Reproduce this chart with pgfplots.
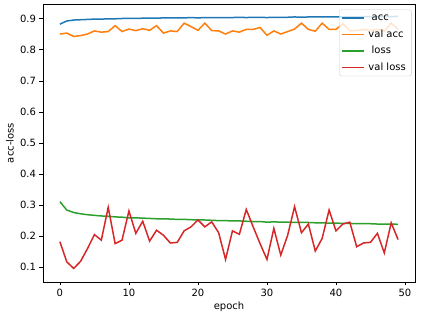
\documentclass[border=0pt]{standalone}
\usepackage{fontspec}
\setmainfont{DejaVu Sans}
\usepackage{pgfplots}
\pgfplotsset{compat=1.18}
\definecolor{c0}{HTML}{1F77B4}
\definecolor{c1}{HTML}{FF7F0E}
\definecolor{c2}{HTML}{2CA02C}
\definecolor{c3}{HTML}{D62728}
\begin{document}
\begin{tikzpicture}
\useasboundingbox (-43pt,-39pt) rectangle (380pt,282pt);
\begin{axis}[
  at={(0,0)}, anchor=south west,
  width=372pt, height=278pt, scale only axis,
  xmin=-2.45, xmax=51.45, ymin=0.0523, ymax=0.9477,
  xtick={0,10,20,30,40,50},
  ytick={0.1,0.2,0.3,0.4,0.5,0.6,0.7,0.8,0.9},
  yticklabels={0.1,0.2,0.3,0.4,0.5,0.6,0.7,0.8,0.9},
  tick align=outside, major tick length=3.5pt,
  tick style={line width=0.8pt, black},
  axis line style={line width=0.8pt},
  tick pos=left,
  font=\fontsize{10}{12}\selectfont,
  /pgf/number format/assume math mode=true,
  ticklabel style={font=\fontsize{10}{12}\selectfont},
  xlabel={epoch}, ylabel={acc-loss},
  every axis x label/.style={at={(axis description cs:0.5,0)}, anchor=center, yshift=-25pt},
  every axis y label/.style={at={(axis description cs:0,0.5)}, xshift=-33pt, anchor=center, rotate=90},
  legend style={at={(axis description cs:1,1)}, anchor=north east, xshift=-3.5pt, yshift=-5.5pt,
    draw=black!20, rounded corners=2pt, fill=white, fill opacity=0.8, text opacity=1, draw opacity=1,
    font=\fontsize{10}{12}\selectfont, inner xsep=2pt, inner ysep=1.5pt, row sep=2.7pt,
    nodes={inner ysep=2pt, inner xsep=3.5pt, text height=7.6pt, text depth=2.2pt},
    cells={anchor=west}},
  legend image code/.code={\draw[#1, line width=1.5pt] (0pt,0pt) -- (22pt,0pt);},
  every axis plot/.append style={line width=1.5pt, mark=none},
]
\addplot[c0] coordinates {(0,0.883)(1,0.893)(2,0.896)(3,0.897)(4,0.898)(5,0.899)(6,0.899)(7,0.900)(8,0.900)(9,0.901)(10,0.901)(11,0.901)(12,0.902)(13,0.902)(14,0.902)(15,0.903)(16,0.903)(17,0.903)(18,0.903)(19,0.904)(20,0.903)(21,0.904)(22,0.904)(23,0.904)(24,0.904)(25,0.904)(26,0.905)(27,0.904)(28,0.905)(29,0.905)(30,0.904)(31,0.905)(32,0.905)(33,0.905)(34,0.906)(35,0.905)(36,0.906)(37,0.906)(38,0.906)(39,0.906)(40,0.906)(41,0.906)(42,0.907)(43,0.906)(44,0.907)(45,0.907)(46,0.907)(47,0.907)(48,0.907)(49,0.908)};
\addlegendentry{\ acc}
\addplot[c1] coordinates {(0,0.851)(1,0.854)(2,0.843)(3,0.846)(4,0.851)(5,0.861)(6,0.857)(7,0.859)(8,0.878)(9,0.859)(10,0.867)(11,0.862)(12,0.868)(13,0.863)(14,0.878)(15,0.854)(16,0.861)(17,0.859)(18,0.886)(19,0.875)(20,0.863)(21,0.886)(22,0.862)(23,0.861)(24,0.851)(25,0.861)(26,0.857)(27,0.866)(28,0.866)(29,0.872)(30,0.847)(31,0.861)(32,0.851)(33,0.859)(34,0.867)(35,0.886)(36,0.866)(37,0.860)(38,0.886)(39,0.866)(40,0.866)(41,0.884)(42,0.862)(43,0.862)(44,0.866)(45,0.862)(46,0.866)(47,0.860)(48,0.886)(49,0.866)};
\addlegendentry{val acc}
\addplot[c2] coordinates {(0,0.311)(1,0.284)(2,0.276)(3,0.272)(4,0.269)(5,0.267)(6,0.265)(7,0.264)(8,0.262)(9,0.261)(10,0.259)(11,0.259)(12,0.258)(13,0.257)(14,0.256)(15,0.256)(16,0.255)(17,0.254)(18,0.254)(19,0.253)(20,0.252)(21,0.252)(22,0.251)(23,0.250)(24,0.250)(25,0.249)(26,0.249)(27,0.248)(28,0.247)(29,0.247)(30,0.245)(31,0.246)(32,0.245)(33,0.245)(34,0.244)(35,0.244)(36,0.244)(37,0.243)(38,0.243)(39,0.242)(40,0.242)(41,0.241)(42,0.241)(43,0.240)(44,0.240)(45,0.240)(46,0.239)(47,0.239)(48,0.239)(49,0.238)};
\addlegendentry{\ loss}
\addplot[c3] coordinates {(0,0.182)(1,0.117)(2,0.096)(3,0.119)(4,0.160)(5,0.205)(6,0.187)(7,0.293)(8,0.176)(9,0.187)(10,0.281)(11,0.209)(12,0.248)(13,0.184)(14,0.219)(15,0.203)(16,0.178)(17,0.180)(18,0.217)(19,0.230)(20,0.252)(21,0.230)(22,0.246)(23,0.211)(24,0.125)(25,0.217)(26,0.206)(27,0.286)(28,0.230)(29,0.176)(30,0.125)(31,0.225)(32,0.139)(33,0.203)(34,0.295)(35,0.211)(36,0.239)(37,0.152)(38,0.193)(39,0.284)(40,0.217)(41,0.239)(42,0.245)(43,0.166)(44,0.178)(45,0.180)(46,0.209)(47,0.146)(48,0.243)(49,0.189)};
\addlegendentry{val loss}
\end{axis}
\end{tikzpicture}
\end{document}
